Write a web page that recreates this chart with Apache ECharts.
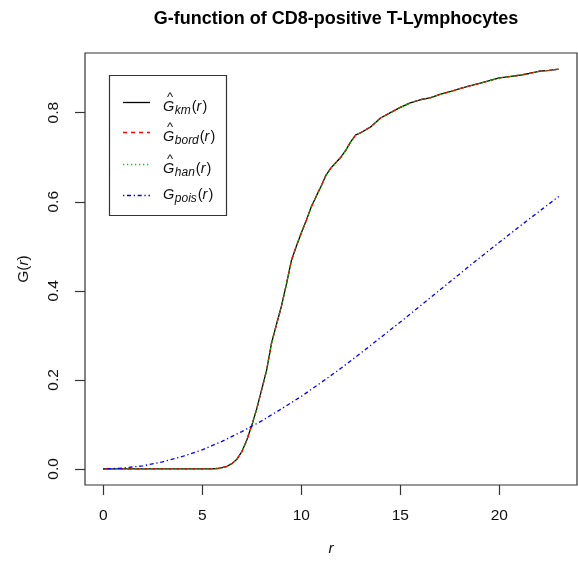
<!DOCTYPE html>
<html><head><meta charset="utf-8">
<script src="https://cdn.jsdelivr.net/npm/echarts@6/dist/echarts.min.js"></script>
<style>html,body{margin:0;padding:0;background:#fff}#c{width:578px;height:562px}</style>
</head><body><div id="c"></div>
<script>
const chartTitle = 'G-function of CD8-positive T-Lymphocytes';
const xTicks = [0, 5, 10, 15, 20];
const yTicks = [0, 0.2, 0.4, 0.6, 0.8];

// empirical G (km / border / Hanisch) estimates
const rEmp = [0, 5.5, 5.75, 6, 6.25, 6.5, 6.75, 7, 7.25, 7.5, 7.75, 8, 8.25, 8.5, 8.75, 9, 9.25, 9.5, 9.75, 10,
  10.25, 10.5, 10.75, 11, 11.25, 11.5, 11.75, 12, 12.25, 12.5, 12.75, 13, 13.5, 14, 14.5, 15, 15.5, 16, 16.5,
  17, 17.5, 18, 18.5, 19, 19.5, 20, 20.5, 21, 21.5, 22, 22.5, 23];
const gKm = [0, 0, 0.001, 0.003, 0.006, 0.012, 0.022, 0.039, 0.065, 0.098, 0.135, 0.178, 0.222, 0.283, 0.325, 0.366,
  0.415, 0.468, 0.500, 0.530, 0.558, 0.588, 0.612, 0.635, 0.660, 0.676, 0.688, 0.700, 0.716, 0.735, 0.750, 0.755,
  0.768, 0.788, 0.800, 0.812, 0.822, 0.829, 0.833, 0.841, 0.847, 0.854, 0.860, 0.866, 0.872, 0.878, 0.881, 0.884,
  0.888, 0.893, 0.895, 0.898];
const gBord = [0, 0, 0.001, 0.003, 0.006, 0.012, 0.022, 0.039, 0.065, 0.098, 0.135, 0.178, 0.222, 0.283, 0.325, 0.366,
  0.415, 0.468, 0.500, 0.530, 0.558, 0.588, 0.612, 0.635, 0.660, 0.676, 0.688, 0.700, 0.716, 0.735, 0.750, 0.755,
  0.768, 0.788, 0.800, 0.812, 0.822, 0.829, 0.833, 0.841, 0.847, 0.854, 0.860, 0.866, 0.872, 0.878, 0.881, 0.884,
  0.888, 0.893, 0.895, 0.898];
const gHan = [0, 0, 0.001, 0.003, 0.006, 0.012, 0.022, 0.039, 0.065, 0.098, 0.135, 0.178, 0.222, 0.283, 0.325, 0.366,
  0.415, 0.468, 0.500, 0.530, 0.558, 0.588, 0.612, 0.635, 0.660, 0.676, 0.688, 0.700, 0.716, 0.735, 0.750, 0.755,
  0.768, 0.788, 0.800, 0.812, 0.822, 0.829, 0.833, 0.841, 0.847, 0.854, 0.860, 0.866, 0.872, 0.878, 0.881, 0.884,
  0.888, 0.893, 0.895, 0.898];

// theoretical Poisson G
const rPois = [0, 1, 2, 3, 4, 5, 6, 7, 8, 9, 10, 11, 12, 13, 14, 15, 16, 17, 18, 19, 20, 21, 22, 23];
const gPois = [0, 0.002, 0.007, 0.016, 0.028, 0.043, 0.062, 0.084, 0.108, 0.135, 0.163, 0.194, 0.226, 0.260,
  0.295, 0.330, 0.366, 0.402, 0.438, 0.474, 0.509, 0.544, 0.578, 0.612];

const FONT = '"Liberation Sans", Arial, sans-serif';
const INK = '#111';
const LW = 1.3;
const zip = (xs, ys) => xs.map((x, i) => [x, ys[i]]);

const chart = echarts.init(document.getElementById('c'), null, {renderer: 'canvas'});

// legend (drawn as graphic elements to reproduce the math-style labels)
const mctx = document.createElement('canvas').getContext('2d');
function tw(text, font) { mctx.font = font; return mctx.measureText(text).width; }
const legendDefs = [
  {sub: 'km', hat: true, color: '#000000', dash: null},
  {sub: 'bord', hat: true, color: '#FF0000', dash: [4, 4]},
  {sub: 'han', hat: true, color: '#00CD00', dash: [1.3, 2.7]},
  {sub: 'pois', hat: false, color: '#0000FF', dash: [1.3, 2.7, 4, 2.7]}
];
const legendRowY = [102, 132, 164, 195];
const fMain = 'italic 14.5px ' + FONT, fNorm = '14.5px ' + FONT, fSub = 'italic 12px ' + FONT;
const gfx = [{
  type: 'rect', shape: {x: 109.5, y: 75.5, width: 117, height: 140},
  style: {fill: '#fff', stroke: '#333', lineWidth: 1.2}, z: 100
}];
legendDefs.forEach((d, i) => {
  const y = legendRowY[i];
  gfx.push({type: 'line', shape: {x1: 123, y1: y + 0.5, x2: 150, y2: y + 0.5},
    style: {stroke: d.color, lineWidth: LW, lineDash: d.dash || null}, z: 101});
  const gy = d.hat ? y + 5 : y;
  let x = 163;
  const parts = [];
  parts.push({t: 'G', f: fMain, dy: 0});
  parts.push({t: d.sub, f: fSub, dy: 4, pre: 0.5});
  parts.push({t: '(', f: fNorm, dy: 0, pre: 1});
  parts.push({t: 'r', f: fMain, dy: 0});
  parts.push({t: ')', f: fNorm, dy: 0, pre: 1});
  const gW = tw('G', fMain);
  parts.forEach(p => {
    x += p.pre || 0;
    gfx.push({type: 'text', x: x, y: gy + p.dy, z: 101,
      style: {text: p.t, font: p.f, fill: INK, textAlign: 'left', textVerticalAlign: 'middle', align: 'left', verticalAlign: 'middle'}});
    x += tw(p.t, p.f);
  });
  if (d.hat) {
    gfx.push({type: 'text', x: 163 + gW / 2 + 1.5, y: gy - 10, z: 101,
      style: {text: '^', font: '13px ' + FONT, fill: INK, textAlign: 'center', textVerticalAlign: 'middle', align: 'center', verticalAlign: 'middle'}});
  }
});

const option = {
  animation: false,
  backgroundColor: '#fff',
  title: {
    text: chartTitle, left: 331, top: 5, textAlign: 'center',
    textStyle: {fontFamily: FONT, fontSize: 18, fontWeight: 'bold', color: '#000'}
  },
  grid: {left: 85, right: 1, top: 53, bottom: 71, show: true, borderColor: '#333', borderWidth: 1.2, containLabel: false},
  xAxis: {
    type: 'value', min: -0.92, max: 23.92,
    name: 'r', nameLocation: 'middle', nameGap: 56,
    nameTextStyle: {fontFamily: FONT, fontSize: 15.5, fontStyle: 'italic', color: INK},
    axisLine: {show: false, onZero: false},
    splitLine: {show: false},
    axisTick: {show: true, customValues: xTicks, length: 10, lineStyle: {color: '#333', width: 1.2}},
    axisLabel: {customValues: xTicks, margin: 23, fontFamily: FONT, fontSize: 15.5, color: INK}
  },
  yAxis: {
    type: 'value', min: -0.036, max: 0.934,
    name: '{n|G(}{i|r}{n|)}', nameLocation: 'middle', nameGap: 53, nameRotate: 90,
    nameTextStyle: {rich: {n: {fontFamily: FONT, fontSize: 15.5, color: INK}, i: {fontFamily: FONT, fontSize: 15.5, fontStyle: 'italic', color: INK}}},
    axisLine: {show: false, onZero: false},
    splitLine: {show: false},
    axisTick: {show: true, customValues: yTicks, length: 10, lineStyle: {color: '#333', width: 1.2}},
    axisLabel: {customValues: yTicks, rotate: 90, margin: 23, fontFamily: FONT, fontSize: 15.5, color: INK,
      formatter: v => v.toFixed(1)}
  },
  graphic: gfx,
  series: [
    {name: 'km', type: 'line', data: zip(rEmp, gKm), symbol: 'none', lineStyle: {color: '#000', width: LW, type: 'solid'}, z: 2},
    {name: 'bord', type: 'line', data: zip(rEmp, gBord), symbol: 'none', lineStyle: {color: '#FF0000', width: LW, type: [4, 4]}, z: 3},
    {name: 'han', type: 'line', data: zip(rEmp, gHan), symbol: 'none', lineStyle: {color: '#00CD00', width: LW, type: [1.3, 2.7]}, z: 4},
    {name: 'pois', type: 'line', data: zip(rPois, gPois), symbol: 'none', lineStyle: {color: '#0000FF', width: LW, type: [1.3, 2.7, 4, 2.7]}, z: 5}
  ]
};
chart.setOption(option);
</script>
</body></html>
